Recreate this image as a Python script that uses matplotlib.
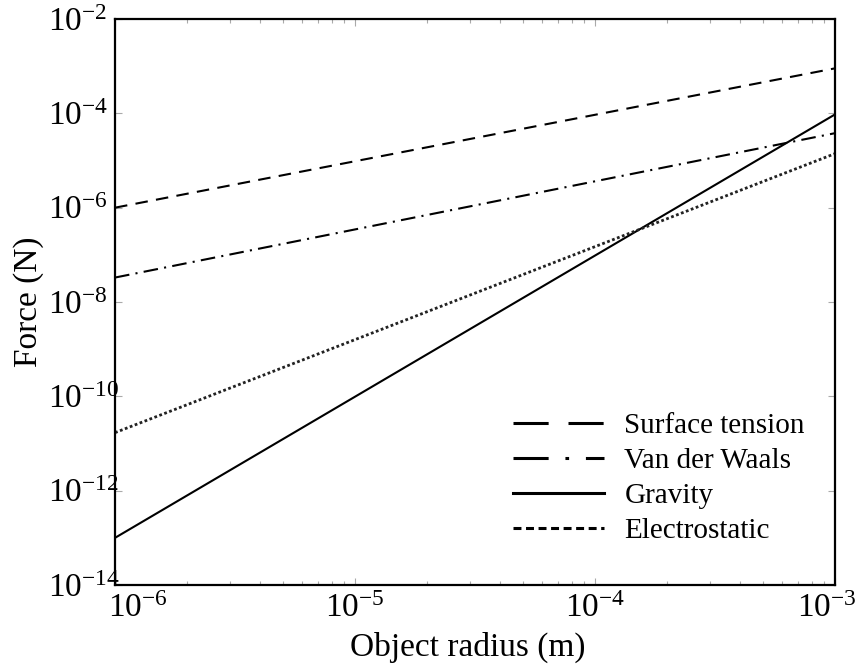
import matplotlib
matplotlib.use("Agg")
import matplotlib.pyplot as plt
import matplotlib.transforms as mtransforms
from matplotlib.lines import Line2D
from matplotlib.ticker import LogLocator, NullLocator

plt.rcParams["font.family"] = ["Liberation Serif", "DejaVu Serif"]
plt.rcParams["mathtext.fontset"] = "custom"
plt.rcParams["mathtext.rm"] = "Liberation Serif"
plt.rcParams["mathtext.it"] = "Liberation Serif:italic"
plt.rcParams["mathtext.bf"] = "Liberation Serif:bold"

# endpoints (power laws -> straight lines on log-log)
radius = [1e-6, 1e-3]
surface_tension = [1.0e-6, 9.0e-4]
van_der_waals = [3.3e-8, 3.8e-5]
gravity = [1.0e-13, 9.5e-5]
electrostatic = [1.7e-11, 1.4e-5]

labels = ["Surface tension", "Van der Waals", "Gravity", "Electrostatic"]
x_ticks = [1e-6, 1e-5, 1e-4, 1e-3]
y_ticks = [1e-14, 1e-12, 1e-10, 1e-8, 1e-6, 1e-4, 1e-2]

fig = plt.figure(figsize=(8.63, 6.65), dpi=100)
ax = fig.add_axes([0.1333, 0.1203, 0.8343, 0.8511])

ax.loglog(radius, surface_tension, color="black", lw=1.5, linestyle=(0, (6, 4)))
ax.loglog(radius, van_der_waals, color="black", lw=1.5, linestyle=(0, (7, 3, 1, 3)))
ax.loglog(radius, gravity, color="black", lw=1.5, linestyle="-")
ax.loglog(radius, electrostatic, color="#222222", lw=2.0, linestyle=(0, (1, 0.9)))

ax.set_xlim(1e-6, 1e-3)
ax.set_ylim(1e-14, 1e-2)

ax.set_xticks(x_ticks)
ax.set_yticks(y_ticks)
ax.yaxis.set_minor_locator(NullLocator())
ax.xaxis.set_minor_locator(LogLocator(base=10.0, subs=range(2, 10)))

for s in ax.spines.values():
    s.set_linewidth(1.6)

ax.tick_params(which="both", direction="in", top=True, right=True,
               color="#aaaaaa", width=0.8)
ax.tick_params(which="major", length=5)
ax.tick_params(which="minor", length=3)
ax.tick_params(axis="x", labelsize=24, pad=6)
ax.tick_params(axis="y", labelsize=24, pad=48)

for t in ax.get_yticklabels():
    t.set_horizontalalignment("left")

# end labels are nudged in, like in the original figure
xl = ax.get_xticklabels()
xl[0].set_transform(xl[0].get_transform() +
                    mtransforms.ScaledTranslation(0.23, 0, fig.dpi_scale_trans))
xl[-1].set_transform(xl[-1].get_transform() +
                     mtransforms.ScaledTranslation(-0.08, 0, fig.dpi_scale_trans))

ax.set_xlabel("Object radius (m)", fontsize=24)
ax.set_ylabel("Force (N)", fontsize=24)
ax.xaxis.set_label_coords(0.49, -0.082)
ax.yaxis.set_label_coords(-0.099, 0.5)

handles = [
    Line2D([], [], color="black", lw=2.2, linestyle=(0, (11.5, 6.5))),
    Line2D([], [], color="black", lw=2.2, linestyle=(0, (11.5, 5.5, 1.2, 5.5))),
    Line2D([], [], color="black", lw=2.2, linestyle="-"),
    Line2D([], [], color="black", lw=2.2, linestyle=(0, (2.6, 1.5))),
]
ax.legend(handles, labels, loc="lower right", bbox_to_anchor=(0.958, 0.072),
          frameon=False, fontsize=21, handlelength=3.1, handletextpad=0.7,
          labelspacing=0.3, borderpad=0, borderaxespad=0)

fig.savefig("out.png", dpi=100)
